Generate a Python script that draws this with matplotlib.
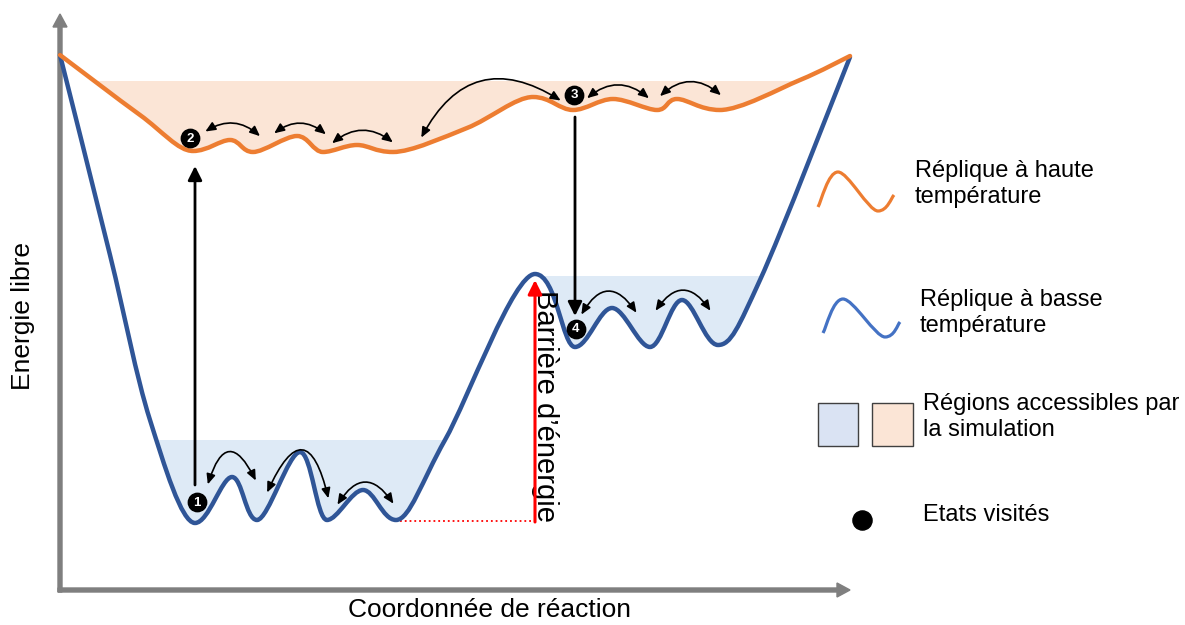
import numpy as np
import matplotlib
matplotlib.use("Agg")
import matplotlib.pyplot as plt
from matplotlib.path import Path
from matplotlib.patches import PathPatch, Rectangle, FancyArrowPatch

plt.rcParams["font.family"] = ["Liberation Sans", "DejaVu Sans"]

# coordonnees en pixels de l'image (y vers le bas)
# replique a haute temperature
orange_x = [60, 140, 193, 230, 253, 297, 323, 357, 393, 467, 533, 573, 613,
            657, 677, 720, 800, 850]
orange_y = [55, 115, 151, 140, 152, 136, 152, 145, 152, 128, 97, 110, 99,
            110, 99, 110, 80, 56]

# replique a basse temperature
blue_x = [60, 110, 150, 195, 232, 257, 300, 327, 363, 396, 445, 535,
          575, 612, 650, 682, 718, 760, 850]
blue_y = [55, 255, 420, 523, 477, 520, 452, 520, 490, 520, 440, 274,
          347, 308, 347, 300, 345, 280, 57]

# niveaux des regions accessibles
orange_level = 81
blue_low_level = 440
blue_high_level = 276

# sauts entre etats: x0, y0, x1, y1, courbure
hops = [
    (207, 487, 257, 483, -1.3),
    (266, 495, 329, 501, -1.5),
    (336, 507, 395, 506, -0.8),
    (580, 317, 638, 315, -0.83),
    (654, 313, 712, 313, -0.76),
    (203, 133, 262, 138, -0.4),
    (272, 135, 328, 136, -0.42),
    (330, 145, 395, 144, -0.42),
    (420, 140, 563, 102, -0.55),
    (585, 100, 651, 100, -0.44),
    (658, 98, 723, 97, -0.47),
]

# etats visites numerotes
states_x = [197, 190, 574, 576]
states_y = [502, 138, 95, 329]
states_lbl = ["1", "2", "3", "4"]

# echanges de repliques
swap_up = (195, 485, 195, 166)
swap_down = (575, 117, 575, 316)

# legende
leg_orange_x = [818, 838, 878, 894]
leg_orange_y = [207, 172, 211, 195]
leg_blue_x = [823, 843, 885, 900]
leg_blue_y = [333, 299, 337, 322]

ORANGE = "#ED7D31"
BLUE = "#2F5597"
GRAY = "#7F7F7F"
FILL_BLUE = "#DEEAF6"
FILL_ORANGE = "#FBE5D6"


def smooth_path(xs, ys, close_top=False):
    pts = np.column_stack([xs, ys]).astype(float)
    p = np.vstack([pts[0], pts, pts[-1]])
    # tangentes, horizontales aux extremums
    tang = []
    for i in range(1, len(p) - 1):
        m = (p[i + 1] - p[i - 1]) / 2
        if (p[i][1] - p[i - 1][1]) * (p[i + 1][1] - p[i][1]) < 0:
            m[1] = 0.0
        tang.append(m)
    verts = [pts[0]]
    codes = [Path.MOVETO]
    for i in range(len(pts) - 1):
        verts += [pts[i] + tang[i] / 3, pts[i + 1] - tang[i + 1] / 3, pts[i + 1]]
        codes += [Path.CURVE4] * 3
    if close_top:
        verts += [(pts[-1][0], 0), (pts[0][0], 0), pts[0]]
        codes += [Path.LINETO, Path.LINETO, Path.CLOSEPOLY]
    return Path(verts, codes)


fig = plt.figure(figsize=(11.85, 6.25), dpi=100)
ax = fig.add_axes([0, 0, 1, 1])
ax.set_xlim(0, 1185)
ax.set_ylim(625, 0)
ax.axis("off")

# regions accessibles (rectangles coupes par les courbes)
orange_clip = PathPatch(smooth_path(orange_x, orange_y, True), transform=ax.transData)
blue_clip = PathPatch(smooth_path(blue_x, blue_y, True), transform=ax.transData)

r = Rectangle((60, orange_level), 790, 100, fc=FILL_ORANGE, ec="none", zorder=1)
ax.add_patch(r)
r.set_clip_path(orange_clip)
r = Rectangle((140, blue_low_level), 320, 100, fc=FILL_BLUE, ec="none", zorder=1)
ax.add_patch(r)
r.set_clip_path(blue_clip)
r = Rectangle((535, blue_high_level), 250, 100, fc=FILL_BLUE, ec="none", zorder=1)
ax.add_patch(r)
r.set_clip_path(blue_clip)

# courbes
ax.add_patch(PathPatch(smooth_path(blue_x, blue_y), fill=False, ec=BLUE, lw=3.2,
                       capstyle="round", joinstyle="round", zorder=3))
ax.add_patch(PathPatch(smooth_path(orange_x, orange_y), fill=False, ec=ORANGE, lw=3.2,
                       capstyle="round", joinstyle="round", zorder=4))

# axes
ax.arrow(60, 592, 0, -578, width=4, head_width=14, head_length=13,
         length_includes_head=True, color=GRAY, zorder=2)
ax.arrow(58, 590, 792, 0, width=4, head_width=14, head_length=13,
         length_includes_head=True, color=GRAY, zorder=2)
ax.text(23, 316, "Energie libre", rotation=90, ha="center", va="center", fontsize=19)
ax.text(490, 610, "Coordonnée de réaction", ha="center", va="center", fontsize=19)

# sauts
for x0, y0, x1, y1, rad in hops:
    ax.add_patch(FancyArrowPatch((x0, y0), (x1, y1),
                                 connectionstyle="arc3,rad=%s" % rad,
                                 arrowstyle="<|-|>,head_length=0.5,head_width=0.22",
                                 mutation_scale=12, lw=1.2, color="black", zorder=5))

# echanges
for x0, y0, x1, y1 in [swap_up, swap_down]:
    ax.annotate("", xy=(x1, y1), xytext=(x0, y0),
                arrowprops=dict(arrowstyle="-|>,head_length=0.6,head_width=0.3",
                                mutation_scale=14, lw=2, color="black",
                                shrinkA=0, shrinkB=0), zorder=5)

# barriere d'energie
ax.plot([400, 535], [521, 521], color="red", ls=":", lw=1.3, zorder=2)
ax.annotate("", xy=(535, 280), xytext=(535, 522),
            arrowprops=dict(arrowstyle="-|>,head_length=0.6,head_width=0.3",
                            mutation_scale=14, lw=2.2, color="red",
                            shrinkA=0, shrinkB=0), zorder=5)
ax.text(545, 406, "Barrière d’énergie", rotation=-90, ha="center", va="center",
        fontsize=21)

# etats
ax.scatter(states_x, states_y, s=175, color="black", zorder=6)
for x, y, t in zip(states_x, states_y, states_lbl):
    ax.text(x, y + 0.5, t, color="white", fontsize=9.5, fontweight="bold",
            ha="center", va="center", zorder=7)

# legende
ax.add_patch(PathPatch(smooth_path(leg_orange_x, leg_orange_y), fill=False,
                       ec=ORANGE, lw=2.3, capstyle="butt"))
ax.add_patch(PathPatch(smooth_path(leg_blue_x, leg_blue_y), fill=False,
                       ec="#4472C4", lw=2.3, capstyle="butt"))
ax.text(915, 184, "Réplique à haute\ntempérature", ha="left", va="center", fontsize=17)
ax.text(920, 313, "Réplique à basse\ntempérature", ha="left", va="center", fontsize=17)
ax.add_patch(Rectangle((818, 403), 40, 43, fc="#DAE3F3", ec="#404040", lw=1))
ax.add_patch(Rectangle((872, 403), 41, 43, fc=FILL_ORANGE, ec="#404040", lw=1))
ax.text(923, 417, "Régions accessibles par\nla simulation", ha="left", va="center",
        fontsize=17)
ax.scatter([862], [520], s=190, color="black")
ax.text(923, 515, "Etats visités", ha="left", va="center", fontsize=17)

fig.savefig("out.png", dpi=100)
